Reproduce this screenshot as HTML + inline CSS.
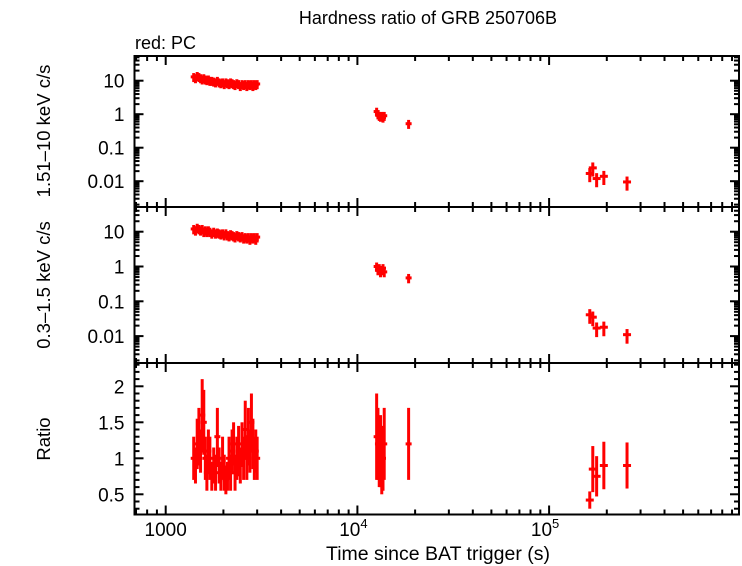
<!DOCTYPE html>
<html><head><meta charset="utf-8"><style>
body{margin:0;background:#fff}
svg{display:block;font-family:"Liberation Sans",sans-serif}
</style></head><body>
<svg id="c" width="742" height="566" viewBox="0 0 742 566">
<text x="428" y="24" font-size="18" text-anchor="middle">Hardness ratio of GRB 250706B</text>
<text x="135" y="49" font-size="18">red: PC</text>
<text transform="translate(50,131) rotate(-90)" font-size="18.5" text-anchor="middle">1.51–10 keV c/s</text>
<text transform="translate(50,285) rotate(-90)" font-size="18.5" text-anchor="middle">0.3–1.5 keV c/s</text>
<text transform="translate(50,439) rotate(-90)" font-size="18.5" text-anchor="middle">Ratio</text>
<text x="438" y="560" font-size="19.5" text-anchor="middle">Time since BAT trigger (s)</text>
<g id="g"></g>
</svg>
<script>
const times=[1400,1430,1460,1490,1520,1550,1580,1610,1640,1670,1700,1740,1780,1820,1860,1900,1940,1980,2020,2060,2100,2140,2180,2220,2260,2300,2350,2400,2450,2500,2550,2600,2650,2700,2750,2800,2850,2900,2950,3000,12600,12800,13000,13200,13400,13600,13800,18500,163000,169000,177000,193000,255000];
const hardVals=[13,12,14,13,12,11,12,11,10.5,11,10,10,9.5,9,10,9,8.5,9,8,9,8.5,8,9,8.5,8,7.5,8.5,8,7,8,7.5,8,7,8,7.5,8,7,8,7.5,8,1.2,1.0,0.9,0.85,0.9,0.8,0.9,0.52,0.017,0.025,0.012,0.014,0.0095];
const softVals=[12,11,13,12,11,12,10,11,10,11,10,9,10,9,9.5,9,8.5,9,8,9,8,7.5,8.5,8,7.5,7,8,7.5,7,7.5,6.5,7,6.5,7,6,7,6.5,7,6,7,1.0,0.8,0.9,0.7,0.8,0.9,0.7,0.47,0.041,0.035,0.017,0.018,0.011];
const ratioVals=[1.0,0.9,1.2,1.3,1.1,1.6,1.5,1.0,0.8,1.1,1.0,0.75,0.9,0.8,1.3,0.9,0.75,1.0,0.8,0.7,0.75,1.0,0.8,1.1,1.2,0.8,1.0,1.1,0.9,1.2,1.0,1.4,1.0,1.3,1.1,1.5,1.2,1.0,1.1,1.0,1.3,1.2,1.0,1.1,0.9,1.0,1.2,1.2,0.42,0.85,0.75,0.9,0.9];
const ratioErr=[0.3,0.25,0.35,0.4,0.3,0.5,0.45,0.3,0.25,0.3,0.3,0.2,0.25,0.25,0.4,0.25,0.2,0.3,0.25,0.2,0.2,0.3,0.25,0.3,0.3,0.25,0.3,0.35,0.25,0.3,0.3,0.4,0.3,0.4,0.3,0.4,0.35,0.3,0.3,0.3,0.6,0.5,0.4,0.5,0.4,0.45,0.5,0.5,0.12,0.32,0.28,0.33,0.32];
const xTickLabels=["1000","10","10"];
const NS="http://www.w3.org/2000/svg",G=document.getElementById('g');
const X0=134.5,X1=739,xl0=3-31.2/191.7;
const xs=t=>X0+(Math.log10(t)-xl0)*191.7;
const panels=[
 {top:56,bot:207,log:true,y10:80.7,dec:33.5,vals:hardVals,name:'hard'},
 {top:207,bot:363,log:true,y10:231.7,dec:34.8,vals:softVals,name:'soft'},
 {top:363,bot:514.5,log:false,name:'ratio',vals:ratioVals}
];
function ys(p,v){return p.log? p.y10+(1-Math.log10(v))*p.dec : 458.3-(v-1)*72;}
function ln(x1,y1,x2,y2,c,w,name){const l=document.createElementNS(NS,'line');l.setAttribute('x1',x1);l.setAttribute('y1',y1);l.setAttribute('x2',x2);l.setAttribute('y2',y2);l.setAttribute('stroke',c);l.setAttribute('stroke-width',w);


G.appendChild(l);}
function tx(x,y,s,anchor,name,sup){const t=document.createElementNS(NS,'text');t.setAttribute('x',x);t.setAttribute('y',y);t.setAttribute('font-size','19');t.setAttribute('text-anchor',anchor);t.textContent=s;
if(sup){const ts=document.createElementNS(NS,'tspan');ts.setAttribute('dy','-8');ts.setAttribute('font-size','13');ts.textContent=sup;t.appendChild(ts);}


G.appendChild(t);}
panels.forEach(p=>{
 p.vals.forEach((v,i)=>{
  const x=xs(times[i]),y=ys(p,v);
  let lo,hi;
  if(p.log){const f=times[i]>100000?0.45:0.3;lo=v*(1-f);hi=v*(1+f);}else{lo=v-ratioErr[i];hi=v+ratioErr[i];}
  ln(x,ys(p,hi),x,ys(p,lo),'#f00',3,'error-bar-'+p.name);
  const dx=times[i]>100000?4:3;
  ln(x-dx,y,x+dx,y,'#f00',3,'point-'+p.name);
 });
 if(p.log){
  const labs=["10","1","0.1","0.01"];
  for(let d=-3;d<=1;d++){for(let m=1;m<10;m++){const v=m*Math.pow(10,d);const y=ys(p,v);if(y<p.top+1||y>p.bot-1)continue;const L=m==1?9:5;
   ln(X0,y,X0+L,y,'#000',2,'y-tick');ln(X1,y,X1-L,y,'#000',2,'y-tick');}}
  labs.forEach((s,k)=>tx(X0-10,ys(p,Math.pow(10,1-k))+7,s,'end','y-tick-label'));
 } else {
  for(let v=0.3;v<2.31;v+=0.1){const y=ys(p,v);const maj=Math.abs(v*2-Math.round(v*2))<1e-6;const L=maj?9:5;
   ln(X0,y,X0+L,y,'#000',2,'y-tick');ln(X1,y,X1-L,y,'#000',2,'y-tick');}
  ["2","1.5","1","0.5"].forEach(s=>tx(X0-10,ys(p,+s)+7,s,'end','y-tick-label'));
 }
 for(let d=2;d<=5;d++){for(let m=1;m<10;m++){const t=m*Math.pow(10,d);const x=xs(t);if(x<X0+1||x>X1-1)continue;const L=m==1?9:5;
  ln(x,p.top,x,p.top+L,'#000',2,'x-tick');ln(x,p.bot,x,p.bot-L,'#000',2,'x-tick');}}
 const r=document.createElementNS(NS,'rect');r.setAttribute('x',X0);r.setAttribute('y',p.top);r.setAttribute('width',X1-X0);r.setAttribute('height',p.bot-p.top);r.setAttribute('fill','none');r.setAttribute('stroke','#000');r.setAttribute('stroke-width','2');
 
 
 G.appendChild(r);
});
tx(xs(1000),536,xTickLabels[0],'middle','x-tick-label');
tx(xs(10000)-4,536,xTickLabels[1],'middle','x-tick-label','4');
tx(xs(100000)-4,536,xTickLabels[2],'middle','x-tick-label','5');
</script>
</body></html>
